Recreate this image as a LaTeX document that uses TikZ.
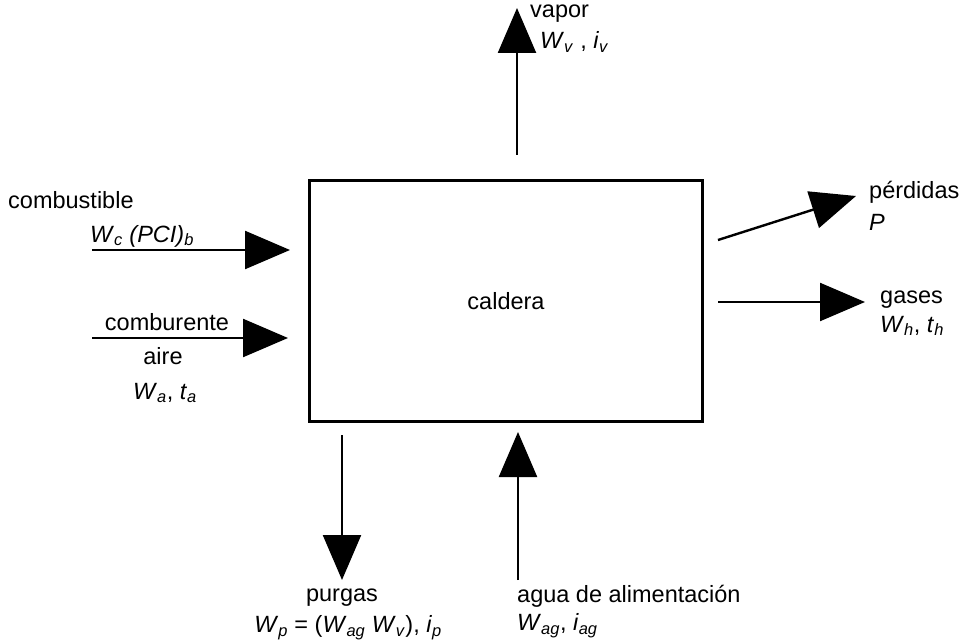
\documentclass[tikz,border=0pt]{standalone}
\usepackage{fontspec}
\setmainfont{Liberation Sans}
\usepackage{tikz}
\usetikzlibrary{positioning}
\usetikzlibrary{arrows.meta}
\usetikzlibrary{calc}
\newcommand{\flujo}[2]{\textit{#1}\textsubscript{\textit{#2}}}
\tikzset{
  flecha/.style={line width=2.4pt,-{Triangle[length=45pt,width=38pt]}},
  rotulo/.style={inner sep=0pt,font=\fontsize{23.5}{27}\selectfont},
}

\begin{document}
\begin{tikzpicture}[x=1pt,y=-1pt]
            \useasboundingbox (0,0) rectangle (966,644);
            % caldera
            \node at (506,301) [draw,line width=2.4pt,minimum width=393pt,minimum height=241pt,rotulo] (ncaldera) {caldera};
            % vapor
            \coordinate (nvap0) at (517,155);
            \coordinate (nvap1) at (517,8);
            \draw[flecha] (nvap0) -- (nvap1);
            \node at (530,14) [anchor=west,rotulo] (nvapor) {vapor};
            \node at (540,42) [anchor=west,rotulo] (nvapW) {\flujo{W}{v} ,\ \flujo{i}{v}};
            % combustible
            \coordinate (ncb0) at (92,250);
            \coordinate (ncb1) at (290,250);
            \draw[flecha] (ncb0) -- (ncb1);
            \node at (8,200) [anchor=west,rotulo] (ncomb) {combustible};
            \node at (90,236) [anchor=west,rotulo] (ncombW) {\flujo{W}{c} \textit{(PCI)}\textsubscript{\textit{b}}};
            % comburente aire
            \coordinate (nai0) at (92,338);
            \coordinate (nai1) at (288,338);
            \draw[flecha] (nai0) -- (nai1);
            \node at (167,322) [rotulo] (ncomburente) {comburente};
            \node at (163,356) [rotulo] (naire) {aire};
            \node at (165,393) [rotulo] (naireW) {\flujo{W}{a}, \flujo{t}{a}};
            % perdidas
            \coordinate (npe0) at (718,240);
            \coordinate (npe1) at (856,196);
            \draw[flecha] (npe0) -- (npe1);
            \node at (869,192) [anchor=west,rotulo] (nperd) {pérdidas};
            \node at (869,222) [anchor=west,rotulo] (nperdP) {\textit{P}};
            % gases
            \coordinate (nga0) at (718,302);
            \coordinate (nga1) at (865,302);
            \draw[flecha] (nga0) -- (nga1);
            \node at (880,300) [anchor=west,rotulo] (ngases) {gases};
            \node at (880,326) [anchor=west,rotulo] (ngasesW) {\flujo{W}{h}, \flujo{t}{h}};
            % purgas
            \coordinate (npu0) at (342,435);
            \coordinate (npu1) at (342,580);
            \draw[flecha] (npu0) -- (npu1);
            \node at (342,598) [rotulo] (npurgas) {purgas};
            \node at (348,628) [rotulo] (npurgasW) {\flujo{W}{p} = (\flujo{W}{ag} \flujo{W}{v}), \flujo{i}{p}};
            % agua de alimentacion
            \coordinate (nag0) at (518,580);
            \coordinate (nag1) at (518,432);
            \draw[flecha] (nag0) -- (nag1);
            \node at (517,596) [anchor=west,rotulo] (nagua) {agua de alimentación};
            \node at (517,626) [anchor=west,rotulo] (naguaW) {\flujo{W}{ag}, \flujo{i}{ag}};
        \end{tikzpicture}
\end{document}
